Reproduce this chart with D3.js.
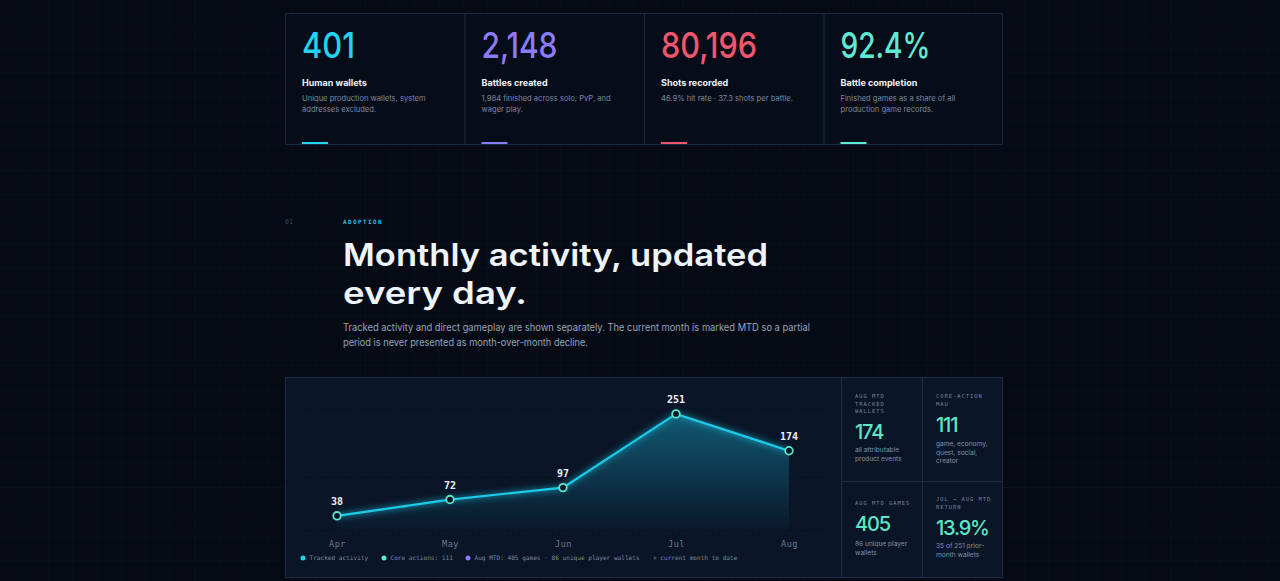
<!DOCTYPE html>
<html>
<head>
<meta charset="utf-8">
<script src="https://cdn.jsdelivr.net/npm/d3@7"></script>
<style>
  html, body { margin: 0; padding: 0; background: #050a14; overflow: hidden; }
  svg { display: block; }
</style>
</head>
<body>
<svg id="page" width="1280" height="581"></svg>
<script>
// stat cards
var statValues = ["401", "2,148", "80,196", "92.4%"];
var statTitles = ["Human wallets", "Battles created", "Shots recorded", "Battle completion"];
var statDescs = [
  ["Unique production wallets, system", "addresses excluded."],
  ["1,984 finished across solo, PvP, and", "wager play."],
  ["46.9% hit rate · 37.3 shots per battle."],
  ["Finished games as a share of all", "production game records."]
];
var statColors = ["#22d3ee", "#8b7cf6", "#f0566e", "#5eead4"];

// monthly chart
var months = ["Apr", "May", "Jun", "Jul", "Aug"];
var tracked = [38, 72, 97, 251, 174];
var gridTicks = [0, 125, 250];
var legendItems = ["Tracked activity", "Core actions: 111", "Aug MTD: 405 games · 86 unique player wallets", "+ current month to date"];
var legendColors = ["#22d3ee", "#5eead4", "#8b7cf6", null];

// side metrics
var sideLabels = [["AUG MTD", "TRACKED", "WALLETS"], ["CORE-ACTION", "MAU"], ["AUG MTD GAMES"], ["JUL \u2192 AUG MTD", "RETURN"]];
var sideValues = ["174", "111", "405", "13.9%"];
var sideDescs = [["all attributable", "product events"], ["game, economy,", "quest, social,", "creator"], ["86 unique player", "wallets"], ["35 of 251 prior-", "month wallets"]];

var svg = d3.select("#page");
var W = 1280, H = 581;
var sans = "Inter, 'Noto Sans', sans-serif",
    mono = "'DejaVu Sans Mono', 'Liberation Mono', monospace";

var defs = svg.append("defs");
var pat = defs.append("pattern").attr("id", "grid").attr("width", 24.4).attr("height", 24.4)
  .attr("patternUnits", "userSpaceOnUse");
pat.append("path").attr("d", "M24.4 0V24.4M0 24.4H24.4").attr("fill", "none")
  .attr("stroke", "rgba(120,150,200,0.06)").attr("stroke-width", 1);

svg.append("rect").attr("width", W).attr("height", H).attr("fill", "#050a14");
svg.append("rect").attr("width", W).attr("height", H).attr("fill", "url(#grid)");

// ---- stat cards
var cardX = d3.scaleLinear().domain([0, 4]).range([285, 1003]);
svg.append("rect").attr("x", 285.5).attr("y", 13.5).attr("width", 717).attr("height", 131)
  .attr("fill", "#060c18").attr("stroke", "#1b2a3f");
var numWidths = [53, 76, 96, 90];
var cards = svg.selectAll(".card").data(statValues).enter().append("g")
  .attr("transform", (d, i) => `translate(${cardX(i)},13)`);
cards.filter((d, i) => i > 0).append("line")
  .attr("x1", 0.5).attr("x2", 0.5).attr("y1", 0).attr("y2", 131).attr("stroke", "#1b2a3f");
cards.append("text").attr("x", 17).attr("y", 45).text(d => d)
  .attr("fill", (d, i) => statColors[i]).attr("font-family", sans).attr("font-size", 36)
  .attr("font-weight", 500).attr("textLength", (d, i) => numWidths[i]).attr("lengthAdjust", "spacingAndGlyphs");
cards.append("text").attr("x", 17).attr("y", 72.5).text((d, i) => statTitles[i])
  .attr("fill", "#eef3fa").attr("font-family", sans).attr("font-size", 9).attr("font-weight", 700);
cards.each(function(d, i) {
  d3.select(this).selectAll(".desc").data(statDescs[i]).enter().append("text")
    .attr("x", 17).attr("y", (t, j) => 87.5 + j * 11).text(t => t)
    .attr("fill", "#7b8aa0").attr("font-family", sans).attr("font-size", 7.6);
});
cards.append("rect").attr("x", 17).attr("y", 129).attr("width", 26).attr("height", 2)
  .attr("fill", (d, i) => statColors[i]);

// ---- section heading
svg.append("text").attr("x", 285).attr("y", 224).text("01")
  .attr("fill", "#3b4759").attr("font-family", mono).attr("font-size", 6.5);
svg.append("text").attr("x", 343).attr("y", 224).text("ADOPTION")
  .attr("fill", "#22c3e6").attr("font-family", mono).attr("font-size", 6).attr("font-weight", 700)
  .attr("letter-spacing", 1.4);
var headline = [["Monthly activity, updated", 266, 425], ["every day.", 303.5, 184]];
svg.selectAll(".head").data(headline).enter().append("text")
  .attr("x", 343).attr("y", d => d[1]).text(d => d[0])
  .attr("fill", "#eef4fb").attr("font-family", sans).attr("font-size", 31).attr("font-weight", 600)
  .attr("textLength", d => d[2]).attr("lengthAdjust", "spacingAndGlyphs");
var para = [["Tracked activity and direct gameplay are shown separately. The current month is marked MTD so a partial", 331, 467],
            ["period is never presented as month-over-month decline.", 346, 245]];
svg.selectAll(".para").data(para).enter().append("text")
  .attr("x", 343).attr("y", d => d[1]).text(d => d[0])
  .attr("fill", "#98a6ba").attr("font-family", sans).attr("font-size", 10)
  .attr("textLength", d => d[2]).attr("lengthAdjust", "spacingAndGlyphs");

// ---- chart panel
svg.append("rect").attr("x", 285.5).attr("y", 377.5).attr("width", 717).attr("height", 200)
  .attr("fill", "#0a1527").attr("stroke", "#1d2d44");

var x = d3.scalePoint().domain(months).range([337, 789]);
var y = d3.scaleLinear().domain([0, 280]).range([534, 400]);

var grad = defs.append("linearGradient").attr("id", "areaFill").attr("gradientUnits", "userSpaceOnUse")
  .attr("x1", 0).attr("x2", 0).attr("y1", y(251)).attr("y2", y(0));
grad.append("stop").attr("offset", 0).attr("stop-color", "#1ab8dc").attr("stop-opacity", 0.42);
grad.append("stop").attr("offset", 1).attr("stop-color", "#1ab8dc").attr("stop-opacity", 0);

var glow = defs.append("filter").attr("id", "glow").attr("x", "-20%").attr("y", "-50%")
  .attr("width", "140%").attr("height", "200%");
glow.append("feGaussianBlur").attr("stdDeviation", 3).attr("result", "b");
var fm = glow.append("feMerge");
fm.append("feMergeNode").attr("in", "b");
fm.append("feMergeNode").attr("in", "SourceGraphic");

svg.append("g").selectAll("line").data(gridTicks).enter().append("line")
  .attr("x1", 300).attr("x2", 826).attr("y1", d => y(d)).attr("y2", d => y(d))
  .attr("stroke", "rgba(150,180,220,0.07)").attr("stroke-dasharray", "2,3");

var pts = months.map((m, i) => ({ m: m, v: tracked[i] }));
svg.append("path").datum(pts)
  .attr("d", d3.area().x(d => x(d.m)).y0(y(0)).y1(d => y(d.v)))
  .attr("fill", "url(#areaFill)");
svg.append("path").datum(pts)
  .attr("d", d3.line().x(d => x(d.m)).y(d => y(d.v)))
  .attr("fill", "none").attr("stroke", "#1ccbea").attr("stroke-width", 2.2)
  .attr("filter", "url(#glow)");
svg.append("g").selectAll("circle").data(pts).enter().append("circle")
  .attr("cx", d => x(d.m)).attr("cy", d => y(d.v)).attr("r", 3.8)
  .attr("fill", "#0a1527").attr("stroke", "#5ee6c8").attr("stroke-width", 1.8);
svg.append("g").selectAll("text").data(pts).enter().append("text")
  .attr("x", d => x(d.m)).attr("y", d => y(d.v) - 11).attr("text-anchor", "middle")
  .text(d => d.v).attr("fill", "#eef3fa").attr("font-family", mono).attr("font-size", 10)
  .attr("font-weight", 700);

var xAxis = svg.append("g").attr("transform", "translate(0,547)")
  .call(d3.axisBottom(x).tickSize(0).tickPadding(0));
xAxis.select(".domain").remove();
xAxis.selectAll("text").attr("fill", "#6d7a8e").attr("font-family", mono).attr("font-size", 8.5)
  .attr("letter-spacing", 0.6).attr("dy", 0);

// legend
var legX = [303, 384, 468, 653];
var leg = svg.append("g").selectAll("g").data(legendItems).enter().append("g")
  .attr("transform", (d, i) => `translate(${legX[i]},558)`);
leg.filter((d, i) => legendColors[i]).append("circle").attr("r", 2.5)
  .attr("fill", d => legendColors[legendItems.indexOf(d)]);
leg.append("text").attr("x", (d, i) => legendColors[i] ? 6.5 : 0).attr("y", 2.2).text(d => d)
  .attr("fill", "#7d8aa0").attr("font-family", mono).attr("font-size", 6.1);

// ---- side metrics
var sideX = [841, 922];
svg.append("line").attr("x1", 841.5).attr("x2", 841.5).attr("y1", 377).attr("y2", 578).attr("stroke", "#1d2d44");
svg.append("line").attr("x1", 922.5).attr("x2", 922.5).attr("y1", 377).attr("y2", 578).attr("stroke", "#1d2d44");
svg.append("line").attr("x1", 841).attr("x2", 1003).attr("y1", 481.5).attr("y2", 481.5).attr("stroke", "#1d2d44");
var labelY = [398, 398, 505, 501];
var valueY = [439, 432, 531, 535];
var descY = [452, 446, 546, 548];
var cells = svg.selectAll(".cell").data(sideValues).enter().append("g")
  .attr("transform", (d, i) => `translate(${sideX[i % 2] + 14},0)`);
cells.each(function(d, i) {
  var g = d3.select(this);
  g.selectAll(".lab").data(sideLabels[i]).enter().append("text")
    .attr("y", (t, j) => labelY[i] + j * 7.5).text(t => t)
    .attr("fill", "#7a8699").attr("font-family", mono).attr("font-size", 5.4).attr("letter-spacing", 1);
  g.append("text").attr("y", valueY[i]).text(d)
    .attr("fill", "#5ee6c8").attr("font-family", sans).attr("font-size", 20).attr("font-weight", 500)
    .attr("letter-spacing", -1.2);
  g.selectAll(".ds").data(sideDescs[i]).enter().append("text")
    .attr("y", (t, j) => descY[i] + j * 8.5).text(t => t)
    .attr("fill", "#8391a6").attr("font-family", sans).attr("font-size", 6.6);
});
</script>
</body>
</html>
